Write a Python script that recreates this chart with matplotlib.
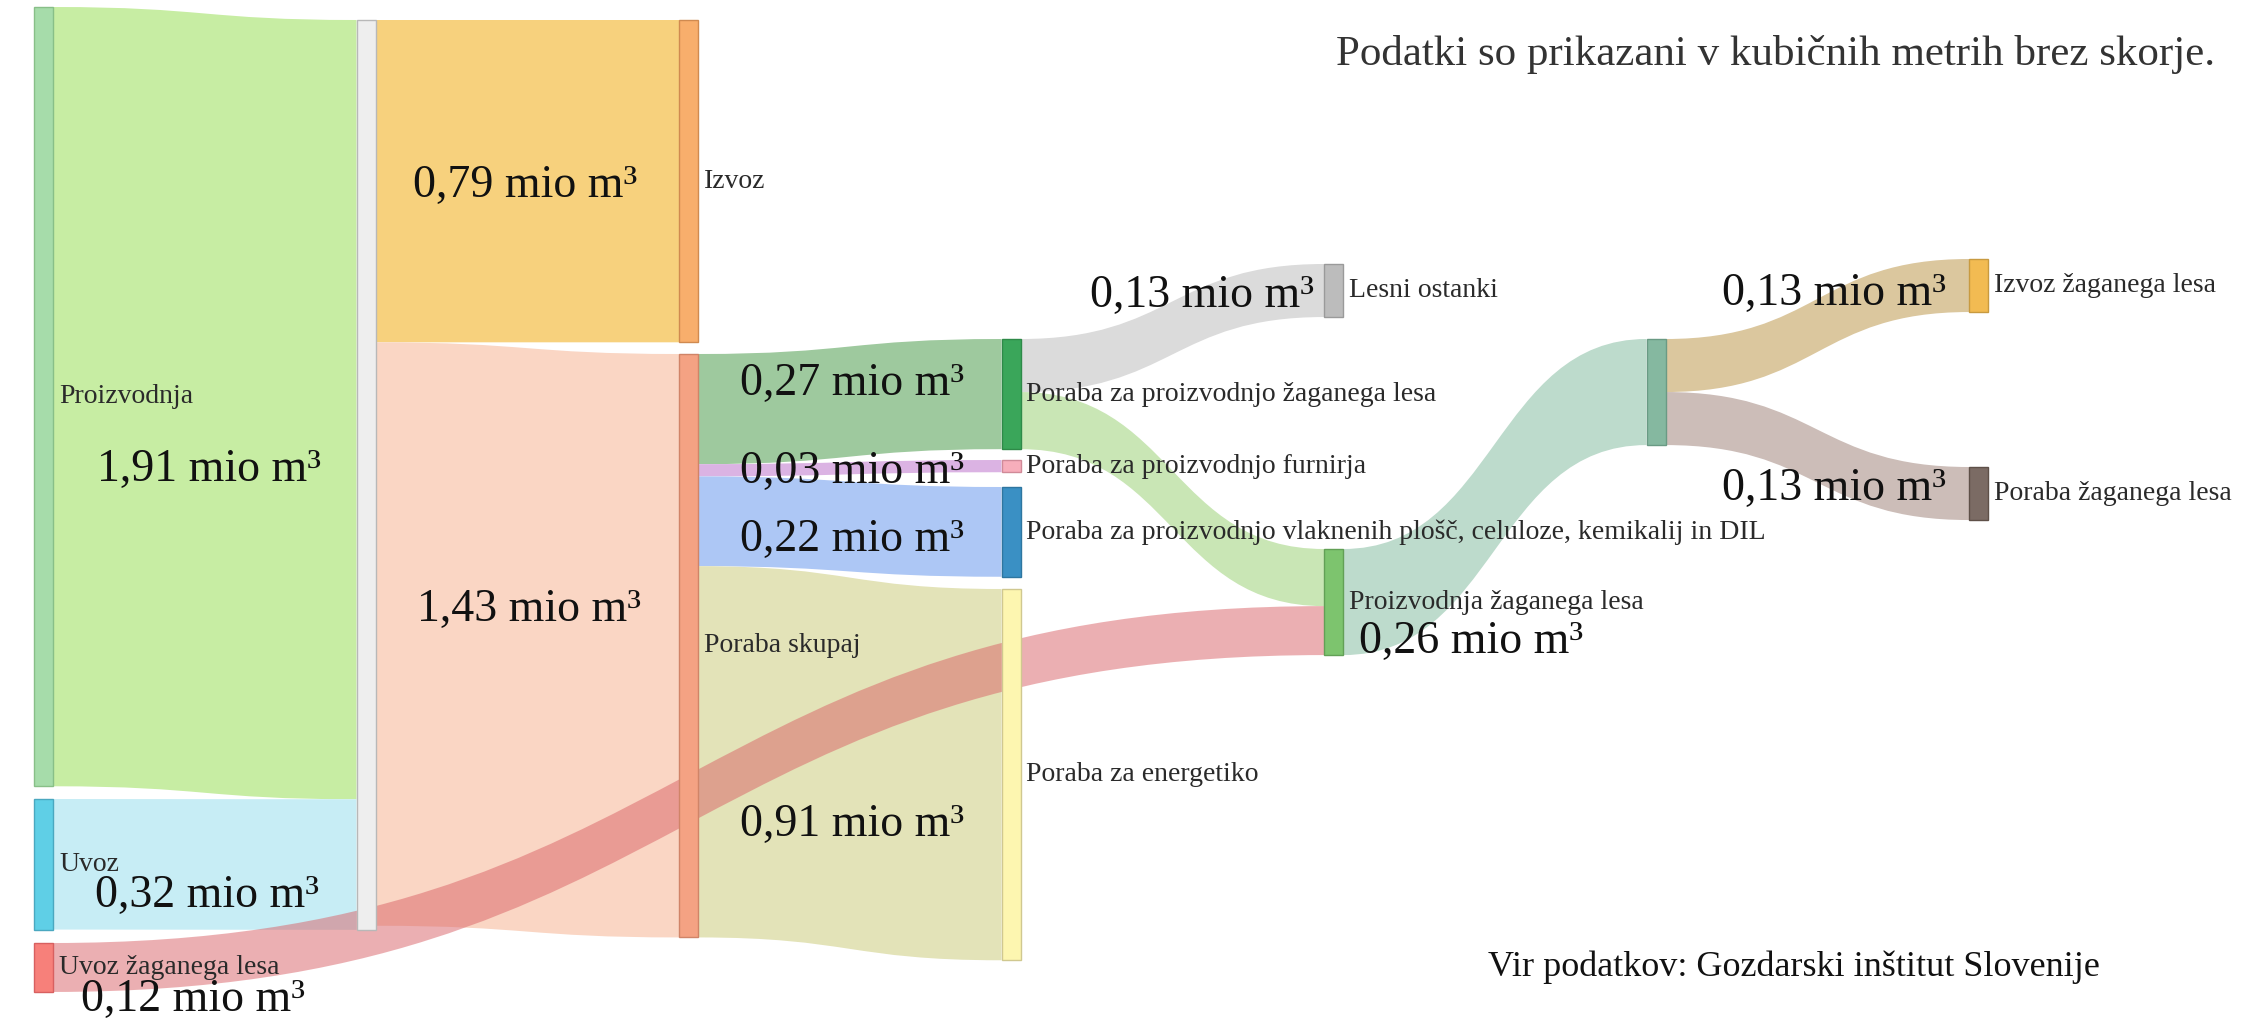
import matplotlib
matplotlib.use("Agg")
import matplotlib.pyplot as plt
from matplotlib.path import Path
from matplotlib.patches import PathPatch, Rectangle

# ---------------- data ----------------
node_labels = [
    "Proizvodnja", "Uvoz", "Uvoz žaganega lesa", "",
    "Izvoz", "Poraba skupaj",
    "Poraba za proizvodnjo žaganega lesa", "Poraba za proizvodnjo furnirja",
    "Poraba za proizvodnjo vlaknenih plošč, celuloze, kemikalij in DIL",
    "Poraba za energetiko",
    "Lesni ostanki", "Proizvodnja žaganega lesa", "",
    "Izvoz žaganega lesa", "Poraba žaganega lesa",
]
link_source = [0, 1, 3, 3, 5, 5, 5, 5, 6, 6, 2, 11, 12, 12]
link_target = [3, 3, 4, 5, 6, 7, 8, 9, 10, 11, 11, 12, 13, 14]
link_value = [1.91, 0.32, 0.79, 1.43, 0.27, 0.03, 0.22, 0.91, 0.13, 0.14, 0.12, 0.26, 0.13, 0.13]

value_labels = ["1,91 mio m³", "0,32 mio m³", "0,12 mio m³", "0,79 mio m³", "1,43 mio m³",
                "0,27 mio m³", "0,03 mio m³", "0,22 mio m³", "0,91 mio m³",
                "0,13 mio m³", "0,26 mio m³", "0,13 mio m³", "0,13 mio m³"]

note_text = "Podatki so prikazani v kubičnih metrih brez skorje."
source_text = "Vir podatkov: Gozdarski inštitut Slovenije"

# ---------------- layout / style ----------------
W, H = 2241, 1021
node_col = [0, 0, 0, 1, 2, 2, 3, 3, 3, 3, 4, 4, 5, 6, 6]
node_top = [7, 799, 943, 20, 20, 354, 339, 460, 487, 589, 264, 549, 339, 259, 467]
col_x0, col_step, node_w = 34, 322.5, 19
px_per_unit = 408.0

node_colors = ["#a6dcaa", "#5fcfe6", "#f7807a", "#eeeeee", "#f8ae6c", "#f4a283",
               "#3aa65a", "#f7aebb", "#3a90c4", "#fdf6b0", "#bcbcbc", "#7dc46e",
               "#85b8a0", "#f2bb52", "#7b6b64"]
node_edges = ["#88bf88", "#4aa8c0", "#d86060", "#b8b8b8", "#d08a50", "#d08468",
              "#2e8a48", "#d08a98", "#2e76a0", "#d0c890", "#9a9a9a", "#62a056",
              "#6a9a84", "#c89a40", "#5e5048"]
link_colors = [(0.78, 0.93, 0.64, 1.0), (0.78, 0.93, 0.96, 1.0), (0.97, 0.82, 0.49, 1.0),
               (0.98, 0.84, 0.77, 1.0), (0.62, 0.79, 0.62, 1.0), (0.86, 0.70, 0.89, 1.0),
               (0.68, 0.78, 0.96, 1.0), (0.89, 0.89, 0.72, 1.0), (0.86, 0.86, 0.86, 1.0),
               (0.79, 0.90, 0.71, 1.0), (0.85, 0.38, 0.40, 0.50), (0.74, 0.86, 0.80, 1.0),
               (0.86, 0.78, 0.62, 1.0), (0.80, 0.74, 0.72, 1.0)]
link_draw_order = [0, 1, 2, 3, 4, 5, 6, 7, 8, 9, 11, 12, 13, 10]

value_pos = [(209, 470), (207, 896), (193, 1000), (525, 186), (529, 610),
             (852, 384), (852, 472), (852, 540), (852, 825),
             (1202, 296), (1471, 642), (1834, 294), (1834, 489)]

serif = ["Liberation Serif", "DejaVu Serif"]

# ---------------- computing node geometry ----------------
n = len(node_labels)
in_sum = [0.0] * n
out_sum = [0.0] * n
for s, t, v in zip(link_source, link_target, link_value):
    out_sum[s] += v
    in_sum[t] += v
node_val = [max(a, b) for a, b in zip(in_sum, out_sum)]
node_x = [col_x0 + c * col_step for c in node_col]
node_h = [v * px_per_unit for v in node_val]

# link offsets: sorted by opposite node's position
src_off = {}
tgt_off = {}
for i in range(n):
    outs = sorted([k for k in range(len(link_value)) if link_source[k] == i],
                  key=lambda k: node_top[link_target[k]])
    y = node_top[i]
    for k in outs:
        src_off[k] = y
        y += link_value[k] * px_per_unit
    ins = sorted([k for k in range(len(link_value)) if link_target[k] == i],
                 key=lambda k: node_top[link_source[k]])
    y = node_top[i]
    for k in ins:
        tgt_off[k] = y
        y += link_value[k] * px_per_unit

fig = plt.figure(figsize=(W / 100, H / 100), dpi=100)
ax = fig.add_axes([0, 0, 1, 1])
ax.set_xlim(0, W)
ax.set_ylim(H, 0)
ax.axis("off")

for k in link_draw_order:
    s, t = link_source[k], link_target[k]
    x0 = node_x[s] + node_w
    x1 = node_x[t]
    th = link_value[k] * px_per_unit
    ya0, yb0 = src_off[k], tgt_off[k]
    xm = (x0 + x1) / 2
    verts = [(x0, ya0), (xm, ya0), (xm, yb0), (x1, yb0),
             (x1, yb0 + th), (xm, yb0 + th), (xm, ya0 + th), (x0, ya0 + th), (x0, ya0)]
    codes = [Path.MOVETO, Path.CURVE4, Path.CURVE4, Path.CURVE4,
             Path.LINETO, Path.CURVE4, Path.CURVE4, Path.CURVE4, Path.CLOSEPOLY]
    ax.add_patch(PathPatch(Path(verts, codes), facecolor=link_colors[k],
                           edgecolor="none", zorder=1))

for i in range(n):
    ax.add_patch(Rectangle((node_x[i], node_top[i]), node_w, node_h[i],
                           facecolor=node_colors[i], edgecolor=node_edges[i],
                           linewidth=1.0, zorder=3))
    if node_labels[i]:
        ax.text(node_x[i] + node_w + 6, node_top[i] + node_h[i] / 2, node_labels[i],
                ha="left", va="center", fontsize=20, family=serif,
                color="#2a2a2a", zorder=5)

for txt, (x, y) in zip(value_labels, value_pos):
    ax.text(x, y, txt, ha="center", va="center", fontsize=33, family=serif,
            color="#111111", zorder=6)

ax.text(2215, 54, note_text, ha="right", va="center", fontsize=31, family=serif,
        color="#333333", zorder=6)
ax.text(1794, 967, source_text, ha="center", va="center", fontsize=26, family=serif,
        color="#111111", zorder=6)

fig.savefig("out.png", dpi=100, facecolor="white")
